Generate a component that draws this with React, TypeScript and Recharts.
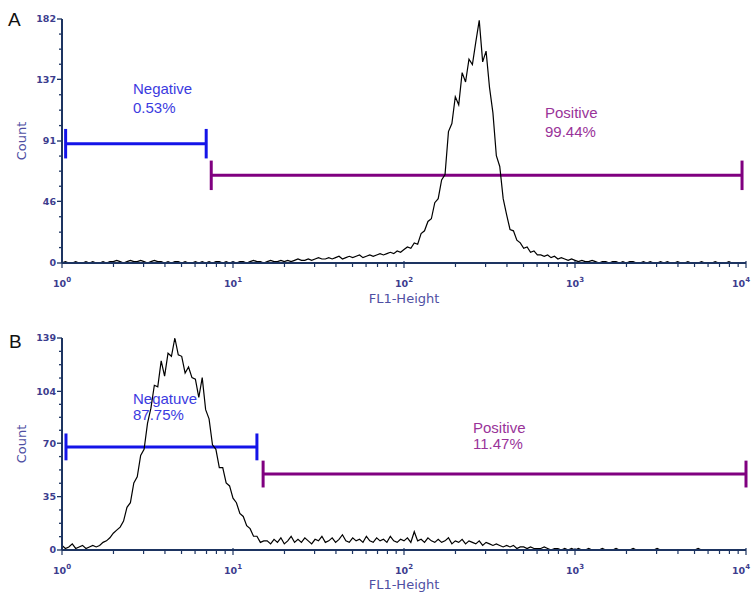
import React from 'react';
import { LineChart, Line, XAxis, YAxis, ReferenceLine } from 'recharts';

// ---------- data ----------
// histogram bins, 50 per decade, from 10^0 to 10^4 (201 points)
const BINS_PER_DECADE = 50;

const countsA = [
  0, 1, 0, 0, 1, 0, 0, 1, 0, 1,
  0, 0, 1, 0, 1, 1, 2, 1, 0, 1,
  2, 1, 1, 2, 1, 0, 1, 2, 1, 1,
  0, 1, 0, 1, 1, 0, 1, 0, 0, 1,
  0, 1, 0, 1, 0, 1, 1, 0, 1, 0,
  1, 0, 1, 1, 0, 1, 2, 1, 1, 0,
  1, 2, 1, 1, 2, 1, 2, 1, 2, 3,
  2, 2, 3, 2, 3, 4, 3, 3, 4, 3,
  4, 5, 3, 4, 5, 4, 5, 6, 4, 5,
  6, 5, 6, 7, 6, 7, 8, 7, 9, 8,
  10, 12, 11, 15, 14, 22, 24, 31, 33, 45,
  48, 62, 66, 98, 104, 124, 118, 142, 135, 152,
  148, 165, 181, 150, 158, 131, 112, 80, 72, 48,
  36, 25, 24, 17, 15, 11, 12, 8, 9, 6,
  6, 5, 6, 4, 5, 3, 4, 3, 2, 3,
  2, 1, 2, 1, 1, 2, 1, 0, 1, 1,
  0, 1, 1, 0, 1, 0, 1, 1, 0, 0,
  1, 0, 1, 0, 0, 1, 0, 1, 0, 0,
  1, 0, 0, 1, 0, 0, 0, 1, 0, 0,
  0, 1, 0, 0, 0, 1, 0, 0, 0, 0, 0,
];

const countsB = [
  3, 1, 2, 4, 1, 2, 3, 1, 2, 3,
  2, 3, 5, 6, 8, 11, 13, 15, 19, 28,
  31, 44, 48, 62, 66, 83, 93, 108, 107, 124,
  114, 129, 127, 139, 128, 127, 116, 120, 113, 112,
  100, 113, 92, 86, 69, 66, 54, 54, 44, 42,
  34, 31, 24, 22, 16, 14, 9, 9, 5, 6,
  6, 4, 7, 5, 8, 4, 6, 9, 5, 7,
  5, 8, 6, 4, 7, 6, 9, 5, 6, 8,
  5, 7, 10, 6, 5, 8, 6, 7, 5, 9,
  6, 5, 8, 6, 7, 5, 9, 6, 5, 7,
  6, 8, 5, 12, 6, 7, 5, 8, 6, 5,
  7, 5, 6, 8, 4, 6, 5, 7, 4, 6,
  5, 4, 6, 3, 5, 4, 3, 4, 3, 2,
  3, 2, 3, 1, 2, 2, 1, 2, 1, 1,
  1, 2, 1, 0, 1, 1, 0, 1, 0, 1,
  0, 1, 0, 0, 1, 0, 0, 0, 1, 0,
  0, 0, 1, 0, 0, 0, 0, 1, 0, 0,
  0, 0, 0, 0, 1, 0, 0, 0, 0, 0,
  0, 0, 0, 0, 0, 0, 1, 0, 0, 0,
  0, 0, 0, 0, 0, 0, 0, 0, 0, 0, 0,
];

const yTicksA = [0, 46, 91, 137, 182];
const yTicksB = [0, 35, 70, 104, 139];
const xDecades = [0, 1, 2, 3, 4];

// gates (FL1 range and drawing level in counts)
const gateNamesA = ['Negative', 'Positive'];
const gatePctA = ['0.53%', '99.44%'];
const gateLowA = [1.05, 7.46];
const gateHighA = [6.97, 9480];
const gateLevelA = [89, 65.4];

const gateNamesB = ['Negatuve', 'Positive'];
const gatePctB = ['87.75%', '11.47%'];
const gateLowB = [1.055, 15.0];
const gateHighB = [13.8, 10000];
const gateLevelB = [67.6, 49.8];

// ---------- styles ----------
const AXIS = '#1d3461';
const TICK_TEXT = '#3d3d8e';
const LABEL_TEXT = '#4f4fa3';
const GATE_COLORS = ['#1414e8', '#800080'];
const GATE_TEXT = ['#3b3be0', '#993399'];
const TICK_FONT = '"DejaVu Sans", Verdana, sans-serif';
const TEXT_FONT = '"Liberation Sans", Arial, sans-serif';

const toRows = (counts: number[]) =>
  counts.map((c, i) => ({ fl1: Math.pow(10, i / BINS_PER_DECADE), count: c }));

const rowsA = toRows(countsA);
const rowsB = toRows(countsB);

const lastDecade = xDecades[xDecades.length - 1];
const xTicks: number[] = [];
xDecades.forEach((d, idx) => {
  xTicks.push(Math.pow(10, d));
  if (idx < xDecades.length - 1) {
    for (let k = 2; k <= 9; k++) xTicks.push(k * Math.pow(10, d));
  }
});

const withMinor = (majors: number[], parts: number) => {
  const out: number[] = [];
  majors.forEach((m, i) => {
    out.push(m);
    if (i < majors.length - 1) {
      const n = majors[i + 1];
      for (let k = 1; k < parts; k++) out.push(m + ((n - m) * k) / parts);
    }
  });
  return out;
};

const YTick = (props: any) => {
  const { x, y, payload, majors } = props;
  const major = majors.includes(payload.value);
  return (
    <g>
      <line x1={x - (major ? 5 : 3)} x2={x + (major ? 0 : 1)} y1={y} y2={y} stroke={AXIS} strokeWidth={1.3} />
      {major && (
        <text
          x={x - 6}
          y={y}
          dy="0.35em"
          textAnchor="end"
          fontFamily={TICK_FONT}
          fontSize={9.5}
          fontWeight="bold"
          fill={TICK_TEXT}
        >
          {payload.value}
        </text>
      )}
    </g>
  );
};

const XTick = (props: any) => {
  const { x, y, payload } = props;
  const lg = Math.log10(payload.value);
  const exp = Math.round(lg);
  const major = Math.abs(lg - exp) < 1e-6;
  const isLast = major && exp === lastDecade;
  return (
    <g>
      <line x1={x} x2={x} y1={y - (major ? 2 : 1)} y2={y + (major ? 5 : 4)} stroke={AXIS} strokeWidth={1.2} />
      {major && (
        <text
          x={isLast ? x + 4 : x}
          y={y + 24}
          textAnchor={isLast ? 'end' : 'middle'}
          fontFamily={TICK_FONT}
          fontSize={9.5}
          fontWeight="bold"
          fill={TICK_TEXT}
        >
          10
          <tspan dy={-5} fontSize={7}>
            {exp}
          </tspan>
        </text>
      )}
    </g>
  );
};

const CAP_A = 11;
const CAP_B = 8.8;

function renderGates(low: number[], high: number[], level: number[], cap: number, prefix: string) {
  const out: React.ReactNode[] = [];
  low.forEach((lo, i) => {
    const hi = high[i];
    const lv = level[i];
    const color = GATE_COLORS[i];
    out.push(
      <ReferenceLine key={`${prefix}h${i}`} segment={[{ x: lo, y: lv }, { x: hi, y: lv }]} stroke={color} strokeWidth={3} ifOverflow="visible" />
    );
    out.push(
      <ReferenceLine key={`${prefix}l${i}`} segment={[{ x: lo, y: lv - cap }, { x: lo, y: lv + cap }]} stroke={color} strokeWidth={3} ifOverflow="visible" />
    );
    out.push(
      <ReferenceLine key={`${prefix}r${i}`} segment={[{ x: hi, y: lv - cap }, { x: hi, y: lv + cap }]} stroke={color} strokeWidth={3} ifOverflow="visible" />
    );
  });
  return out;
}

function Panel(props: {
  rows: any[];
  yTicks: number[];
  width: number;
  height: number;
  margin: any;
  labelOffset: number;
  gates: React.ReactNode[];
}) {
  const { rows, yTicks, width, height, margin, labelOffset, gates } = props;
  const top = yTicks[yTicks.length - 1];
  return (
    <LineChart width={width} height={height} data={rows} margin={margin}>
      <XAxis
        dataKey="fl1"
        type="number"
        scale="log"
        domain={[1, 10000]}
        allowDataOverflow
        ticks={xTicks}
        interval={0}
        tickSize={0}
        tickMargin={0}
        tickLine={false}
        height={40}
        axisLine={{ stroke: AXIS, strokeWidth: 2 }}
        tick={(p: any) => <XTick {...p} />}
        label={{
          value: 'FL1-Height',
          position: 'insideBottom',
          offset: labelOffset,
          style: { fontFamily: TICK_FONT, fontSize: 13, fill: LABEL_TEXT },
        }}
      />
      <YAxis
        type="number"
        domain={[0, top]}
        ticks={withMinor(yTicks, 4)}
        interval={0}
        width={62}
        tickSize={0}
        tickMargin={0}
        tickLine={false}
        axisLine={{ stroke: AXIS, strokeWidth: 2 }}
        tick={(p: any) => <YTick {...p} majors={yTicks} />}
        label={{
          value: 'Count',
          angle: -90,
          position: 'insideLeft',
          offset: 21,
          style: { textAnchor: 'middle', fontFamily: TICK_FONT, fontSize: 13, fill: LABEL_TEXT },
        }}
      />
      {gates}
      <Line
        type="linear"
        dataKey="count"
        stroke="#000000"
        strokeWidth={1.2}
        dot={false}
        activeDot={false}
        isAnimationActive={false}
      />
    </LineChart>
  );
}

export default function App() {
  const gateTextA = [
    { x: 133, y: 94 },
    { x: 545, y: 118 },
  ];
  const gateTextB = [
    { x: 133, y: 404 },
    { x: 473, y: 433 },
  ];
  const lineGapA = 19;
  const lineGapB = 16;
  return (
    <div style={{ position: 'absolute', left: 0, top: 0, width: 751, height: 594, background: '#ffffff', overflow: 'hidden' }}>
      <svg width={751} height={594} style={{ position: 'absolute', left: 0, top: 0 }}>
        <text x={8} y={26} fontFamily={TEXT_FONT} fontSize={19} fill="#111">A</text>
        <text x={9} y={348} fontFamily={TEXT_FONT} fontSize={19} fill="#111">B</text>
        {gateNamesA.map((n, i) => (
          <g key={`ta${i}`}>
            <text x={gateTextA[i].x} y={gateTextA[i].y} fontFamily={TEXT_FONT} fontSize={15} fill={GATE_TEXT[i]}>{n}</text>
            <text x={gateTextA[i].x} y={gateTextA[i].y + lineGapA} fontFamily={TEXT_FONT} fontSize={15} fill={GATE_TEXT[i]}>{gatePctA[i]}</text>
          </g>
        ))}
        {gateNamesB.map((n, i) => (
          <g key={`tb${i}`}>
            <text x={gateTextB[i].x} y={gateTextB[i].y} fontFamily={TEXT_FONT} fontSize={15} fill={GATE_TEXT[i]}>{n}</text>
            <text x={gateTextB[i].x} y={gateTextB[i].y + lineGapB} fontFamily={TEXT_FONT} fontSize={15} fill={GATE_TEXT[i]}>{gatePctB[i]}</text>
          </g>
        ))}
      </svg>
      <div style={{ position: 'absolute', left: 0, top: 0 }}>
        <Panel
          rows={rowsA}
          yTicks={yTicksA}
          width={751}
          height={310}
          margin={{ top: 19, right: 5, left: 0, bottom: 7 }}
          labelOffset={0}
          gates={renderGates(gateLowA, gateHighA, gateLevelA, CAP_A, 'a')}
        />
      </div>
      <div style={{ position: 'absolute', left: 0, top: 310 }}>
        <Panel
          rows={rowsB}
          yTicks={yTicksB}
          width={751}
          height={284}
          margin={{ top: 28, right: 5, left: 0, bottom: 4 }}
          labelOffset={1}
          gates={renderGates(gateLowB, gateHighB, gateLevelB, CAP_B, 'b')}
        />
      </div>
    </div>
  );
}
